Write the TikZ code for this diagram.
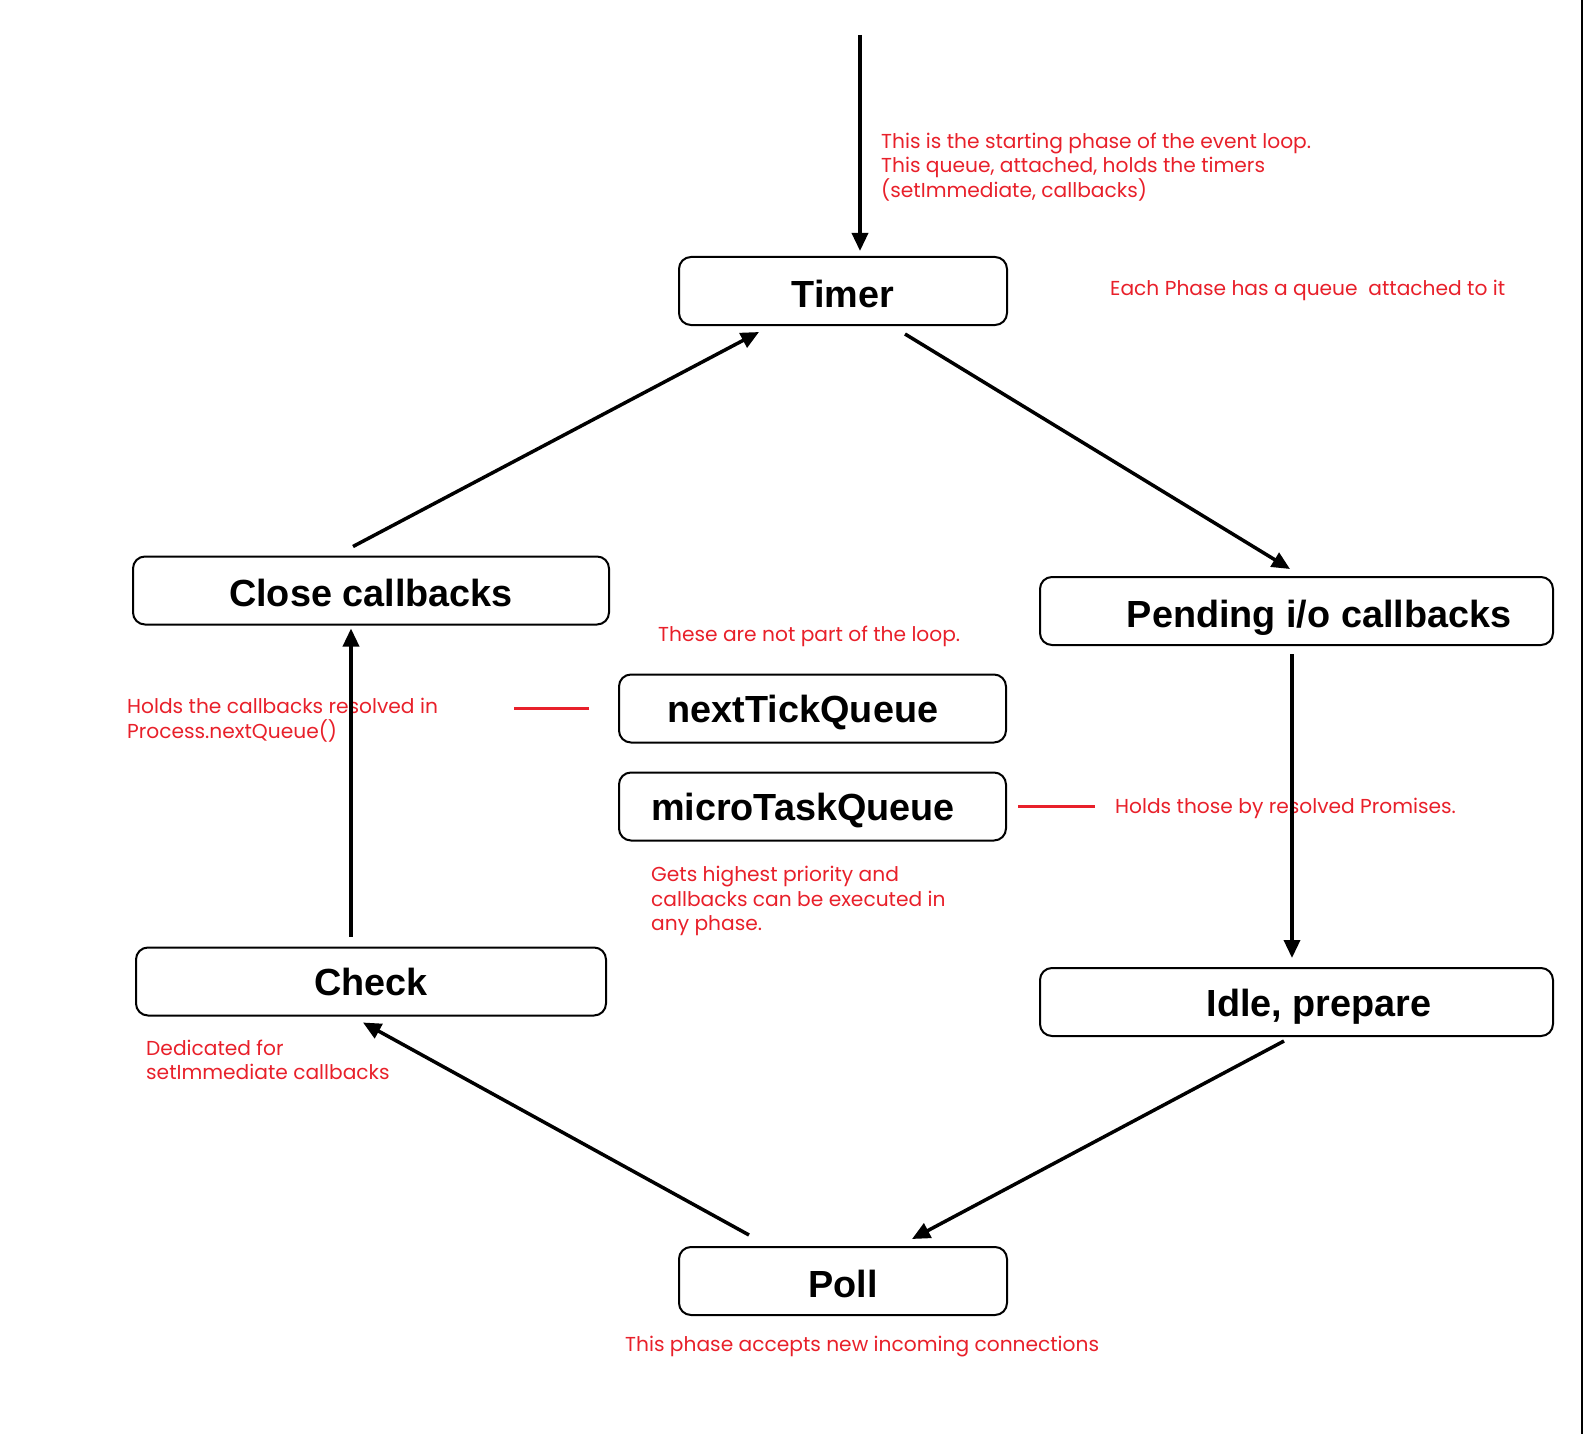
\documentclass[tikz,border=0pt]{standalone}
\usepackage{fontspec}
\setmainfont{Liberation Sans}
\newfontfamily\notefont{Poppins}
\usetikzlibrary{positioning, arrows.meta}
\definecolor{notered}{RGB}{232,32,42}

\begin{document}
\begin{tikzpicture}[x=1pt, y=-1pt,
    phase/.style={rectangle, draw, rounded corners=12pt, line width=2pt, inner sep=0pt, minimum height=68pt, text height=28pt, text depth=0pt, font=\fontsize{37.8}{42}\selectfont\bfseries},
    low/.style={text height=33pt},
    note/.style={text=notered, align=left, inner sep=0pt, font=\notefont\fontsize{20.2}{24.4}\selectfont},
    flow/.style={-{Triangle[length=18pt, width=16pt]}, line width=3.5pt},
    tie/.style={draw=notered, line width=2.5pt}]
    \useasboundingbox (0,0) rectangle (1583,1434);
    \node[phase, low, minimum width=328pt] (timer) at (843,291) {Timer};
    \node[phase, low, text height=32pt, minimum width=476pt] (close) at (371,590.5) {Close callbacks};
    \node[phase, low, minimum width=513pt] (pending) at (1296.5,611) {\hspace*{45pt}Pending i/o callbacks};
    \node[phase, minimum width=387pt] (ntq) at (812.5,708.5) {nextTickQueue\hspace*{19pt}};
    \node[phase, minimum width=387pt] (mtq) at (812.5,806.5) {microTaskQueue\hspace*{19pt}};
    \node[phase, minimum width=470pt] (check) at (371,981.5) {Check};
    \node[phase, minimum width=513pt] (idle) at (1296.5,1002) {\hspace*{45pt}Idle, prepare};
    \node[phase, low, minimum width=328pt] (poll) at (843,1281) {Poll};
    \coordinate (start) at (860,35);
    % Notes
    \node[note, anchor=west] (timernote) at (881,167) {This is the starting phase of the event loop.\\This queue, attached, holds the timers\\(setImmediate, callbacks)};
    \node[note, anchor=west] (phasenote) at (1110,290) {Each Phase has a queue\ \ attached to it};
    \node[note, anchor=west] (loopnote) at (658,636) {These are not part of the loop.};
    \node[note, anchor=west] (ntqnote) at (127,720) {Holds the callbacks resolved in\\Process.nextQueue()};
    \node[note, anchor=west] (mtqnote) at (1115,808) {Holds those by resolved Promises.};
    \node[note, anchor=west] (prionote) at (651,901) {Gets highest priority and\\callbacks can be executed in\\any phase.};
    \node[note, anchor=west] (checknote) at (146,1060) {Dedicated for\\setImmediate callbacks};
    \node[note, anchor=west] (pollnote) at (625,1347) {This phase accepts new incoming connections};
    % Arrows
    \draw[flow] (start) -- ([xshift=17pt, yshift=5pt]timer.north);
    \draw[flow] ([xshift=62pt, yshift=-8pt]timer.south) -- ([xshift=-6.5pt, yshift=7pt]pending.north);
    \draw[flow] ([xshift=-4.5pt, yshift=-8pt]pending.south) -- ([xshift=-4.5pt, yshift=9pt]idle.north);
    \draw[flow] ([xshift=-12.5pt, yshift=-4pt]idle.south) -- ([xshift=69pt, yshift=7pt]poll.north);
    \draw[flow] ([xshift=-94pt, yshift=11pt]poll.north) -- ([xshift=-8pt, yshift=-6pt]check.south);
    \draw[flow] ([xshift=-20pt, yshift=10pt]check.north) -- ([xshift=-20pt, yshift=-3pt]close.south);
    \draw[flow] ([xshift=-18pt, yshift=9pt]close.north) -- ([xshift=-84pt, yshift=-6pt]timer.south);
    \draw[tie] ([xshift=-29pt]ntq.west) -- ([xshift=-104pt]ntq.west);
    \draw[tie] ([xshift=11pt]mtq.east) -- ([xshift=88pt]mtq.east);
    % Frame edge
    \draw[line width=3pt] (1582,0) -- (1582,1434);
\end{tikzpicture}
\end{document}
